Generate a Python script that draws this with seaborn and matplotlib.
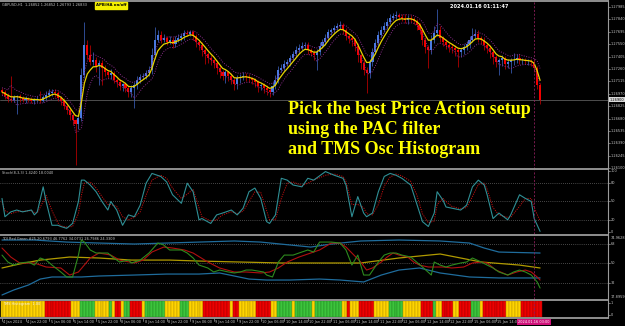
import numpy as np
import pandas as pd
import matplotlib
matplotlib.use("Agg")
import matplotlib.pyplot as plt
import matplotlib.transforms as mtrans
from matplotlib.lines import Line2D
import seaborn as sns

# ---------------- data ----------------
# hourly GBPUSD candles, prices in pips above 1.26000
close_pips = [99,94,91,90,93,94,92,90,91,90,
              89,90,90,89,93,96,98,99,98,92,
              89,83,78,72,66,62,69,119,154,142,
              134,136,129,133,127,122,119,121,113,111,
              106,108,104,99,104,107,113,117,118,121,
              125,142,160,166,160,162,158,160,155,160,
              162,164,168,167,169,164,157,154,148,144,
              139,136,133,127,122,118,122,118,113,108,
              115,117,118,117,115,113,111,106,107,104,
              101,99,106,113,125,127,132,134,139,143,
              148,151,153,154,148,145,142,146,153,157,
              162,169,171,174,176,177,171,165,162,160,
              153,142,133,125,121,134,146,156,166,172,
              176,181,186,188,189,187,186,183,186,184,
              182,177,172,160,152,148,160,168,172,162,
              158,154,152,151,148,146,148,152,155,160,
              165,167,162,160,154,151,146,140,134,136,
              139,132,134,136,137,139,136,136,135,135,
              134,127,107,90]
first_open_pips = 101
wick_hi = [3,2,4,27,3,2,3,2,3,2,3,2,4,10,3,4,5,3,4,2,
           2,3,2,2,3,2,4,8,27,6,12,10,4,3,3,4,3,5,3,2,
           3,2,3,2,3,4,5,3,3,4,5,8,15,6,4,5,3,4,3,5,
           5,4,3,3,3,2,3,2,3,3,2,3,2,3,4,3,3,2,3,2,
           4,3,5,3,3,2,3,2,3,2,3,3,5,6,4,5,5,4,3,4,
           5,4,4,3,3,2,3,3,4,4,5,4,3,3,4,5,3,3,2,3,
           2,3,2,3,3,4,5,5,4,4,5,5,4,4,5,3,3,4,3,3,
           3,2,3,2,3,2,6,8,24,4,3,3,2,3,3,2,3,3,4,5,
           9,6,5,3,3,2,3,2,2,3,3,2,4,3,8,4,5,3,3,3,
           3,2,3,2]
wick_lo = [4,3,4,3,3,20,5,3,4,3,3,4,3,3,2,3,3,4,5,4,
           5,4,5,6,5,48,6,4,3,4,3,3,6,22,20,4,3,5,4,6,
           5,6,5,6,6,24,4,3,3,4,3,5,4,3,4,3,4,3,4,3,
           3,3,4,3,3,4,5,6,7,12,6,5,6,7,6,5,8,6,5,7,
           5,6,4,5,4,5,6,7,5,6,6,6,4,3,4,3,3,3,4,3,
           3,3,3,4,5,4,5,17,4,3,3,3,3,3,3,3,4,5,6,7,
           6,8,7,6,23,5,4,3,3,3,3,3,3,3,3,4,4,3,4,3,
           4,5,5,6,7,21,5,4,3,4,5,5,6,6,7,18,6,5,4,4,
           3,3,4,5,6,6,7,8,6,15,6,6,5,13,5,4,4,4,3,4,
           4,4,5,5]

price_ticks = ["1.27985","1.27840","1.27695","1.27550","1.27405","1.27260","1.27115",
               "1.26970","1.26825","1.26680","1.26535","1.26390","1.26245","1.26100"]
last_price_label = "1.26900"

time_labels = ["4 Jan 2024","4 Jan 22:00","5 Jan 06:00","5 Jan 14:00","5 Jan 22:00",
               "8 Jan 06:00","8 Jan 14:00","8 Jan 22:00","9 Jan 06:00","9 Jan 14:00",
               "9 Jan 22:00","10 Jan 06:00","10 Jan 14:00","10 Jan 22:00","11 Jan 06:00",
               "11 Jan 14:00","11 Jan 22:00","12 Jan 06:00","12 Jan 14:00","12 Jan 22:00",
               "15 Jan 06:00","15 Jan 14:00"]
time_label_bars = [0,8,16,24,32,40,48,56,64,72,80,88,96,104,112,120,128,136,144,152,160,168]
cursor_bar = 181
cursor_label = "2024.01.16 03:00"

# Stochastic (8,3,3)
stoch_bar = [0,1,3,5,7,10,11,12,14,15,17,19,20,22,24,26,27,28,30,32,
             34,36,37,39,41,43,45,47,49,51,54,56,58,61,63,65,67,68,71,73,
             75,78,80,82,84,86,88,90,91,93,95,97,99,102,104,106,110,113,116,117,
             119,121,123,124,126,128,130,132,134,136,139,141,143,145,147,148,150,151,153,156,
             158,160,162,164,165,167,169,172,173,176,178,180,181,183]
stoch_k = [55,25,33,36,33,36,28,33,74,50,11,11,9,6,14,50,85,85,77,66,
           50,36,50,36,11,28,25,44,80,96,91,82,61,47,80,66,20,22,14,28,
           31,36,28,39,66,72,55,17,14,28,88,85,77,74,88,85,99,93,88,77,
           25,58,31,25,31,66,91,96,93,88,77,47,17,9,31,66,52,41,39,36,
           44,74,85,77,61,22,31,20,28,61,55,50,22,1]
stoch_d = [50,35,30,33,34,35,32,31,50,60,35,15,10,8,9,30,60,80,82,72,
           58,45,45,42,25,20,24,33,60,85,93,88,72,55,62,70,40,25,18,20,
           28,33,30,34,50,66,65,35,20,20,55,80,82,76,80,85,93,95,91,83,
           45,45,40,30,28,45,75,90,95,92,83,62,30,15,18,45,55,50,42,38,
           40,58,78,80,70,40,28,24,24,42,55,55,40,18]

# TDI
tdi_up_bar = [0,11,22,33,45,56,67,79,88,98,105,112,122,135,149,159,164,169,183]
tdi_up = [71.5,71.5,69.6,68.7,67.8,68.7,69.6,70.6,69.6,66.9,65.0,67.8,70.6,71.5,70.6,68.7,64.1,60.4,59.5]
tdi_lo_bar = [0,4,9,13,17,27,33,45,56,67,74,79,84,90,98,108,115,123,129,135,142,149,159,169,183]
tdi_lo = [20.8,25.4,30.0,35.5,37.4,37.4,38.3,39.2,40.1,40.1,41.1,38.3,35.5,34.6,34.6,35.5,34.6,32.8,39.2,43.8,45.7,41.1,37.4,36.5,36.5]
tdi_mid_bar = [0,6,13,23,33,44,57,67,81,95,108,122,135,149,163,176,183]
tdi_mid = [45.7,49.4,53.0,55.8,54.9,53.0,53.0,52.1,51.2,50.3,50.3,50.3,54.9,58.6,51.2,48.4,45.7]
tdi_green_bar = [0,2,4,6,9,11,13,15,17,20,22,24,26,27,28,30,32,36,38,40,
                 43,44,47,50,53,55,57,61,63,65,67,70,72,74,77,79,81,83,85,89,
                 90,92,94,96,99,101,104,106,108,112,115,117,119,121,123,125,128,130,132,134,
                 136,139,141,143,146,147,149,151,153,156,158,160,163,165,167,169,172,174,176,178,
                 180,182,183]
tdi_green = [57.6,51.2,48.4,50.3,51.2,48.4,54.9,53.0,48.4,42.0,37.4,37.4,57.6,71.5,69.6,62.3,59.5,59.5,54.9,51.2,
             53.0,50.3,53.0,59.5,68.7,66.9,62.3,62.3,59.5,54.9,48.4,45.7,42.0,43.8,42.0,41.1,42.0,43.8,43.8,42.0,
             39.2,37.4,51.2,57.6,57.6,59.5,62.3,60.4,69.6,69.6,68.7,62.3,48.4,57.6,39.2,39.2,51.2,57.6,59.5,59.5,
             57.6,55.8,51.2,46.6,39.2,51.2,48.4,46.6,48.4,50.3,51.2,54.9,51.2,48.4,45.7,42.0,39.2,42.0,43.8,42.0,
             39.2,32.8,27.2]
tdi_red_bar = [0,3,6,11,15,20,23,26,28,30,33,37,40,45,48,51,55,58,62,65,
               70,74,79,83,88,91,94,97,101,105,108,112,115,117,119,122,124,126,129,131,
               133,135,138,140,142,145,147,150,153,157,160,163,165,168,172,175,178,180,182,183]
tdi_red = [64.1,55.8,50.3,50.3,46.6,45.7,39.2,42.0,48.4,54.9,59.5,57.6,53.0,50.3,53.0,60.4,65.0,64.1,62.3,59.5,
           51.2,45.7,42.0,42.0,41.1,42.0,45.7,51.2,55.8,59.5,62.3,68.7,68.7,65.0,59.5,51.2,43.8,45.7,51.2,55.8,
           59.5,57.6,55.8,51.2,48.4,46.6,46.6,46.6,45.7,46.6,50.3,51.2,50.3,43.8,39.2,42.0,43.8,42.0,37.4,34.6]

# TMS oscillator histogram colour runs (Y=yellow, R=red, G=green), one entry per bar
hist_runs = [("Y",15),("R",9),("Y",3),("G",5),("Y",5),("G",1),("Y",1),("R",2),("Y",1),("G",2),
             ("R",4),("Y",1),("G",7),("Y",5),("G",3),("Y",5),("R",9),("Y",1),("R",2),("Y",6),
             ("R",5),("Y",2),("G",5),("Y",1),("G",6),("Y",1),("G",9),("Y",2),("R",1),("Y",3),
             ("R",5),("Y",5),("G",5),("Y",6),("R",4),("G",1),("Y",2),("R",4),("Y",2),("R",4),
             ("G",3),("Y",1),("R",8),("Y",5),("R",7)]

# ---------------- build frames ----------------
n = len(close_pips)
bars = np.arange(n)
close = 1.26 + np.array(close_pips) / 1e4
opn = np.concatenate([[1.26 + first_open_pips / 1e4], close[:-1]])
high = np.maximum(opn, close) + np.array(wick_hi) / 1e4
low = np.minimum(opn, close) - np.array(wick_lo) / 1e4
df = pd.DataFrame({"bar": bars, "open": opn, "high": high, "low": low, "close": close})
df["pac_mid"] = df["close"].ewm(span=5, adjust=False).mean()
df["pac_hi"] = df["high"].ewm(span=5, adjust=False).mean()
df["pac_lo"] = df["low"].ewm(span=5, adjust=False).mean()

hist_codes = [c for c, k in hist_runs for _ in range(k)]

# ---------------- figure ----------------
sns.set_style("dark")
plt.rcParams['font.family'] = ['DejaVu Sans']
W, H = 625, 326
fig = plt.figure(figsize=(W / 100, H / 100), dpi=100, facecolor="black")
XR = 608
XL = (-0.68, 206.1)


def add_ax(top, bot):
    ax = fig.add_axes([0, 1 - bot / H, XR / W, (bot - top) / H])
    ax.set_facecolor("black")
    ax.set_xlim(XL)
    for s in ax.spines.values():
        s.set_visible(False)
    ax.set_xticks([])
    ax.set_yticks([])
    ax.grid(False)
    return ax


ax_m = add_ax(2, 169)
ax_s = add_ax(170, 234)
ax_t = add_ax(236, 299)
ax_h = add_ax(301, 317)

# ---- main price panel ----
ax_m.set_ylim(1.26090, 1.28043)
up = df["close"] >= df["open"]
col = np.where(up, "#4a78e0", "#f20000")
wcol = np.where(up, "#3a5fb8", "#c00000")
ax_m.vlines(df["bar"], df["low"], df["high"], colors=wcol, lw=0.55, zorder=2)
ax_m.bar(df["bar"], (df["close"] - df["open"]).abs().clip(lower=0.00008),
         bottom=np.minimum(df["open"], df["close"]), width=0.7, color=col, lw=0, zorder=3)
sns.lineplot(data=df, x="bar", y="pac_hi", ax=ax_m, color="#8a2a8a", lw=0.7, linestyle=(0, (1, 1.5)), zorder=4)
sns.lineplot(data=df, x="bar", y="pac_lo", ax=ax_m, color="#8a2a8a", lw=0.7, linestyle=(0, (1, 1.5)), zorder=4)
sns.lineplot(data=df, x="bar", y="pac_mid", ax=ax_m, color="#e8d200", lw=0.9, zorder=5)
ax_m.axhline(close[-1], color="#5a5a5a", lw=0.6, zorder=1)

# ---- stochastic ----
ax_s.set_ylim(-3.3, 101.6)
for lv in (20, 50, 80):
    ax_s.axhline(lv, color="#8a8a8a", lw=0.5, linestyle=(0, (1, 2)))
sns.lineplot(x=stoch_bar, y=stoch_d, ax=ax_s, color="#c01010", lw=0.7, linestyle=(0, (1.2, 1.2)))
sns.lineplot(x=stoch_bar, y=stoch_k, ax=ax_s, color="#2f8f95", lw=0.8)

# ---- TDI ----
ax_t.set_ylim(17.1, 75.2)
for lv in (32, 50, 68):
    ax_t.axhline(lv, color="#8a8a8a", lw=0.5, linestyle=(0, (1, 2)))
sns.lineplot(x=tdi_up_bar, y=tdi_up, ax=ax_t, color="#1f6c9c", lw=0.9)
sns.lineplot(x=tdi_lo_bar, y=tdi_lo, ax=ax_t, color="#1f6c9c", lw=0.9)
sns.lineplot(x=tdi_mid_bar, y=tdi_mid, ax=ax_t, color="#b09a00", lw=0.9)
sns.lineplot(x=tdi_red_bar, y=tdi_red, ax=ax_t, color="#b01010", lw=0.8)
sns.lineplot(x=tdi_green_bar, y=tdi_green, ax=ax_t, color="#2e8a1e", lw=0.8)

# ---- histogram ----
ax_h.set_ylim(0, 1)
fill = {"Y": "#ffd400", "R": "#ee0000", "G": "#3cc43c"}
edge = {"Y": "#b89600", "R": "#a00000", "G": "#238a23"}
ax_h.bar(bars, 1, width=1.0, color=[fill[c] for c in hist_codes],
         edgecolor=[edge[c] for c in hist_codes], lw=0.35)

for ax in (ax_m, ax_s, ax_t, ax_h):
    ax.set_xlabel("")
    ax.set_ylabel("")
    ax.set_xticks([])
    ax.set_yticks([])
    ax.axvline(cursor_bar, color="#8a1e5a", lw=0.6, linestyle=(0, (2.5, 2)), zorder=6)

# ---- frame lines ----
for yy in (1, 169, 235, 300, 318):
    fig.add_artist(Line2D([0, XR / W], [1 - yy / H] * 2, color="#9a9a9a", lw=1.3))
fig.add_artist(Line2D([XR / W] * 2, [1 - 318 / H, 1], color="#9a9a9a", lw=0.8))

# ---- right axis labels ----
tc = "#c8c8c8"
fs = 2.5


def right_label(ax, val, txt):
    tr = mtrans.blended_transform_factory(fig.transFigure, ax.transData)
    fig.add_artist(Line2D([XR / W, (XR + 2) / W], [val, val], transform=tr, color="#9a9a9a", lw=0.5))
    fig.text((XR + 3) / W, val, txt, transform=tr, color=tc, fontsize=fs, va="center", ha="left")


for t in price_ticks:
    right_label(ax_m, float(t), t)
trm = mtrans.blended_transform_factory(fig.transFigure, ax_m.transData)
fig.text((XR + 2) / W, close[-1], last_price_label, transform=trm, color="black", fontsize=fs,
         va="center", ha="left",
         bbox=dict(boxstyle="square,pad=0.2", fc="#d8d8d8", ec="none"))
for v in (100, 80, 50, 20, 0):
    right_label(ax_s, v, str(v))
for v in (68, 50, 32):
    right_label(ax_t, v, str(v))
fig.text((XR + 3) / W, 1 - 238 / H, "74.9628", color=tc, fontsize=fs, va="center")
fig.text((XR + 3) / W, 1 - 296.5 / H, "17.8959", color=tc, fontsize=fs, va="center")
right_label(ax_h, 0.85, "1")
right_label(ax_h, 0.12, "0")

# ---- time axis ----
trx = mtrans.blended_transform_factory(ax_h.transData, fig.transFigure)
for b, lab in zip(time_label_bars, time_labels):
    fig.add_artist(Line2D([b, b], [1 - 318 / H, 1 - 320.5 / H], transform=trx, color="#9a9a9a", lw=0.5))
    fig.text(b + 0.5, 1 - 322 / H, lab, transform=trx, color=tc, fontsize=2.5, va="center", ha="left")
fig.text(cursor_bar, 1 - 322 / H, cursor_label, transform=trx, color="white", fontsize=2.5,
         va="center", ha="center", bbox=dict(boxstyle="square,pad=0.35", fc="#d0107a", ec="none"))

# ---- panel titles and annotations ----
fig.text(2 / W, 1 - 4.5 / H, "GBPUSD,H1  1.26852 1.26852 1.26793 1.26833", color=tc, fontsize=2.5, va="center")
fig.text(111 / W, 1 - 5.5 / H, "APB/HA on/off", color="black", fontsize=2.8, va="center", ha="center",
         fontweight="bold", bbox=dict(boxstyle="square,pad=0.3", fc="#f5f000", ec="#f5f000"))
fig.text(479 / W, 1 - 6 / H, "2024.01.16 01:11:47", color="white", fontsize=3.6, va="center", ha="center",
         fontweight="bold")
fig.text(2 / W, 1 - 173 / H, "Stoch(8,3,3) 1.4240 18.0040", color=tc, fontsize=2.5, va="center")
fig.text(2 / W, 1 - 238.5 / H, "TDI Red Green #25.20.6793 46.7762 34.0731 26.7986 24.3309", color=tc,
         fontsize=2.5, va="center")
fig.text(3 / W, 1 - 304 / H, "TMS Histogram  1.00", color="#f0f0f0", fontsize=2.5, va="center")

big = dict(color="#ffff00", fontsize=13, fontweight="bold", family=["Liberation Serif", "DejaVu Serif"],
           va="top", ha="left")
fig.text(288 / W, 1 - 100.5 / H, "Pick the best Price Action setup", **big)
fig.text(288 / W, 1 - 120.5 / H, "using the PAC filter", **big)
fig.text(288 / W, 1 - 140.5 / H, "and TMS Osc Histogram", **big)

fig.savefig("out.png", dpi=100, facecolor="black")
